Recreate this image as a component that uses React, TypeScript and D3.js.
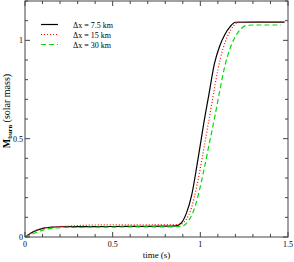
import React from 'react';
import * as d3 from 'd3';

// time (s) / burned mass (solar mass) for each grid resolution
const tFine = [0, 0.02, 0.05, 0.1, 0.15, 0.2, 0.4, 0.6, 0.8, 0.86, 0.89, 0.92, 0.95, 0.98, 1.0, 1.02, 1.05, 1.08, 1.11, 1.14, 1.17, 1.2, 1.3, 1.48];
const mFine = [0, 0.012, 0.028, 0.044, 0.05, 0.052, 0.053, 0.054, 0.055, 0.057, 0.07, 0.12, 0.21, 0.36, 0.47, 0.58, 0.73, 0.88, 0.97, 1.03, 1.07, 1.092, 1.093, 1.093];

const tMid = [0, 0.05, 0.1, 0.2, 0.3, 0.4, 0.6, 0.85, 0.89, 0.92, 0.95, 0.98, 1.01, 1.04, 1.07, 1.1, 1.13, 1.16, 1.19, 1.22, 1.48];
const mMid = [0, 0.028, 0.044, 0.053, 0.058, 0.061, 0.062, 0.063, 0.066, 0.09, 0.15, 0.26, 0.4, 0.55, 0.7, 0.85, 0.96, 1.03, 1.075, 1.093, 1.094];

const tCoarse = [0, 0.05, 0.1, 0.15, 0.2, 0.4, 0.6, 0.85, 0.9, 0.93, 0.96, 0.99, 1.02, 1.05, 1.08, 1.11, 1.14, 1.17, 1.2, 1.23, 1.26, 1.3, 1.46];
const mCoarse = [0, 0.018, 0.035, 0.044, 0.048, 0.05, 0.051, 0.052, 0.056, 0.08, 0.13, 0.22, 0.34, 0.47, 0.6, 0.74, 0.87, 0.96, 1.02, 1.057, 1.075, 1.078, 1.078];

const seriesNames = ['\u0394x = 7.5 km', '\u0394x = 15 km', '\u0394x = 30 km'];
const seriesColors = ['#000000', '#ff0000', '#00dd00'];
const seriesDash = ['none', '1,2', '5,3'];

const xMajor = [0, 0.5, 1, 1.5];
const xLabels = ['0', '0.5', '1', '1.5'];
const yMajor = [0, 0.5, 1];
const yLabels = ['0', '0.5', '1'];

const W = 294, H = 262;
const m = { left: 25, right: 6, top: 1, bottom: 25 };
const font = '"Liberation Serif", "Times New Roman", serif';

export default function App() {
  const x = d3.scaleLinear().domain([0, 1.5]).range([m.left, W - m.right]);
  const y = d3.scaleLinear().domain([0, 1.2]).range([H - m.bottom, m.top]);

  const line = d3.line<[number, number]>()
    .x(d => x(d[0]))
    .y(d => y(d[1]))
    .curve(d3.curveMonotoneX);

  const series = [
    d3.zip(tFine, mFine) as [number, number][],
    d3.zip(tMid, mMid) as [number, number][],
    d3.zip(tCoarse, mCoarse) as [number, number][],
  ];

  const xMinor = d3.range(0, 1.51, 0.1).filter(v => !xMajor.some(t => Math.abs(t - v) < 1e-6));
  const yMinor = d3.range(0, 1.21, 0.1).filter(v => !yMajor.some(t => Math.abs(t - v) < 1e-6));

  const x0 = x(0), x1 = x(1.5), y0 = y(0), y1 = y(1.2);
  const axisColor = '#444';

  return (
    <svg width={W} height={H} style={{ position: 'absolute', left: 0, top: 0, background: '#fff' }}>
      <g clipPath="url(#clip)">
        {series.map((s, i) => (
          <path key={i} d={line(s) || ''} fill="none" stroke={seriesColors[i]}
            strokeWidth={1.2} strokeDasharray={seriesDash[i]} />
        ))}
      </g>
      <defs>
        <clipPath id="clip"><rect x={x0} y={y1} width={x1 - x0} height={y0 - y1} /></clipPath>
      </defs>

      <rect x={x0} y={y1} width={x1 - x0} height={y0 - y1} fill="none" stroke={axisColor} strokeWidth={1} />

      {xMajor.map(v => (
        <g key={'xM' + v}>
          <line x1={x(v)} x2={x(v)} y1={y0} y2={y0 - 5} stroke={axisColor} />
          <line x1={x(v)} x2={x(v)} y1={y1} y2={y1 + 5} stroke={axisColor} />
        </g>
      ))}
      {xMinor.map(v => (
        <g key={'xm' + v}>
          <line x1={x(v)} x2={x(v)} y1={y0} y2={y0 - 3} stroke={axisColor} />
          <line x1={x(v)} x2={x(v)} y1={y1} y2={y1 + 3} stroke={axisColor} />
        </g>
      ))}
      {yMajor.map(v => (
        <g key={'yM' + v}>
          <line x1={x0} x2={x0 + 5} y1={y(v)} y2={y(v)} stroke={axisColor} />
          <line x1={x1} x2={x1 - 5} y1={y(v)} y2={y(v)} stroke={axisColor} />
        </g>
      ))}
      {yMinor.map(v => (
        <g key={'ym' + v}>
          <line x1={x0} x2={x0 + 3} y1={y(v)} y2={y(v)} stroke={axisColor} />
          <line x1={x1} x2={x1 - 3} y1={y(v)} y2={y(v)} stroke={axisColor} />
        </g>
      ))}

      {xMajor.map((v, i) => (
        <text key={'xl' + v} x={x(v)} y={y0 + 10} textAnchor="middle" fontFamily={font} fontSize={8}>{xLabels[i]}</text>
      ))}
      {yMajor.map((v, i) => (
        <text key={'yl' + v} x={x0 - 2} y={y(v) + 3} textAnchor="end" fontFamily={font} fontSize={8}>{yLabels[i]}</text>
      ))}

      <text x={(x0 + x1) / 2} y={H - 4} textAnchor="middle" fontFamily={font} fontSize={9}>time (s)</text>
      <text transform="translate(10,111) rotate(-90)" textAnchor="middle" fontFamily={font} fontSize={10}>
        <tspan fontWeight="bold">M</tspan>
        <tspan fontSize={6.5} dy={2} fontWeight="bold">burn</tspan>
        <tspan dy={-2}> (solar mass)</tspan>
      </text>

      {seriesNames.map((name, i) => (
        <g key={name} transform={`translate(41,${24.5 + i * 10})`}>
          <line x1={0} x2={17} y1={0} y2={0} stroke={seriesColors[i]} strokeWidth={1.2} strokeDasharray={seriesDash[i]} />
          <text x={32} y={3} fontFamily={font} fontSize={8}>{name}</text>
        </g>
      ))}
    </svg>
  );
}
